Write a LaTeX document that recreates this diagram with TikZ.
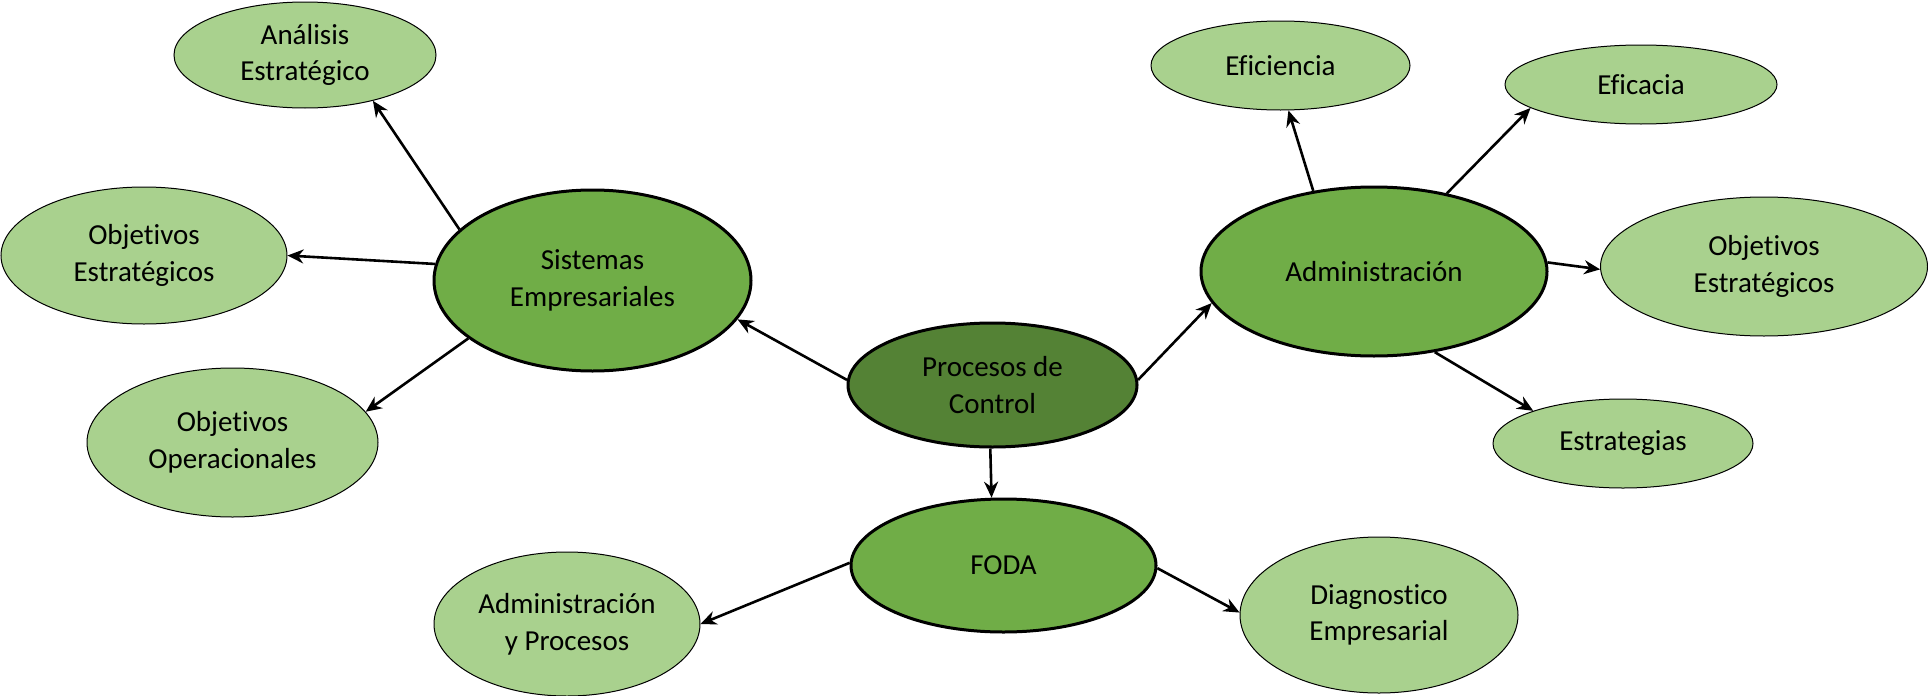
\documentclass[tikz,border=0pt]{standalone}
\usepackage{fontspec}
\setmainfont{Carlito}[Ligatures=NoCommon]
\usetikzlibrary{shapes.geometric,arrows.meta}
\definecolor{dkgreen}{HTML}{548235}
\definecolor{midgreen}{HTML}{70AD47}
\definecolor{ltgreen}{HTML}{A9D18E}
\begin{document}
\begin{tikzpicture}[x=0.5pt,y=-0.5pt,
    every node/.style={ellipse,inner sep=0pt,align=center,font=\fontsize{14.5}{18.3}\selectfont},
    main/.style={draw,line width=1.5pt,fill=midgreen},
    leaf/.style={draw,line width=0.5pt,fill=ltgreen},
    arr/.style={-{Stealth[length=8pt,width=7pt]},line width=1.3pt}]
    \useasboundingbox (0,0) rectangle (1928,696);

    % centre and main branches
    \node[main,fill=dkgreen,minimum width=144.5pt,minimum height=62pt] (pc) at (992.5,385) {Procesos de\\Control};
    \node[main,minimum width=158.5pt,minimum height=90.5pt] (se) at (592.5,280.5) {Sistemas\\Empresariales};
    \node[main,minimum width=173pt,minimum height=84.5pt] (ad) at (1374,271.5) {Administración};
    \node[main,minimum width=152.5pt,minimum height=66.5pt] (fo) at (1003.5,565.5) {FODA};

    % leaves
    \node[leaf,minimum width=131pt,minimum height=53pt] (an) at (305,55) {Análisis\\Estratégico};
    \node[leaf,minimum width=143pt,minimum height=68.5pt] (oel) at (144,255.5) {Objetivos\\Estratégicos};
    \node[leaf,minimum width=145.5pt,minimum height=74.5pt] (oo) at (232.5,442.5) {Objetivos\\Operacionales};
    \node[leaf,minimum width=129.5pt,minimum height=44.5pt] (ef) at (1280.5,65.5) {Eficiencia};
    \node[leaf,minimum width=136pt,minimum height=39.5pt] (ec) at (1641,84.5) {Eficacia};
    \node[leaf,minimum width=163.5pt,minimum height=69.5pt] (oer) at (1764,266.5) {Objetivos\\Estratégicos};
    \node[leaf,minimum width=130pt,minimum height=44.5pt] (es) at (1623,443.5) {Estrategias};
    \node[leaf,minimum width=133pt,minimum height=72pt] (ap) at (567,624) {Administración\\y Procesos};
    \node[leaf,minimum width=139pt,minimum height=78pt] (di) at (1379,615) {Diagnostico\\Empresarial};

    \foreach \a/\b in {pc.178/se.-15, pc.2/ad.191, pc.-92/fo.100,
                       se.159/an.-34, se.174/oel.0, se.-155/oo.13,
                       ad.127/ef.-80, ad.47/ec.192, ad.3/oer.181, ad.-53/es.160,
                       fo.179/ap.0, fo.-1/di.179} {
        \draw[arr] (\a) -- (\b);
    }
\end{tikzpicture}
\end{document}
